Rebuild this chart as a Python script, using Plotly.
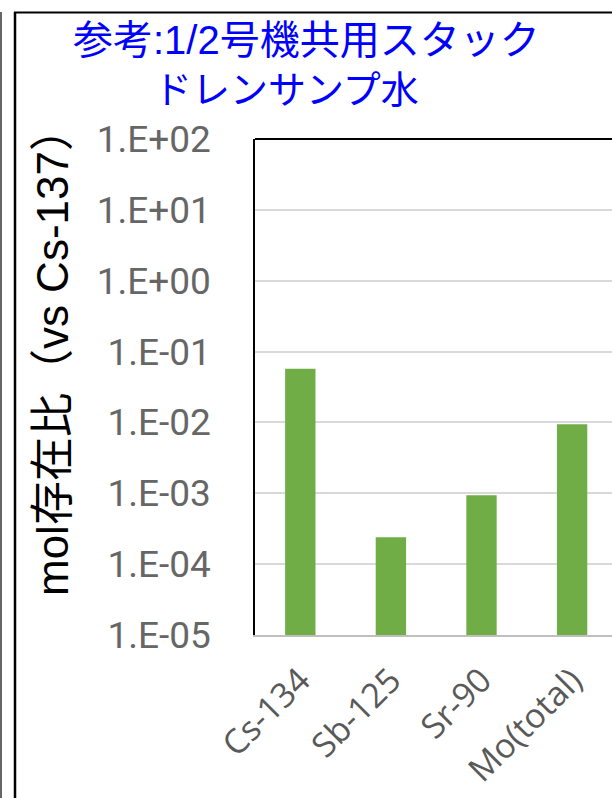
import plotly.graph_objects as go

# data (mol ratio vs Cs-137)
nuclides = ['Cs-134', 'Sb-125', 'Sr-90', 'Mo(total)']
ratio = [0.057, 2.4e-4, 9.4e-4, 9.4e-3]
tick_vals = [1e-5, 1e-4, 1e-3, 1e-2, 1e-1, 1e0, 1e1, 1e2]
tick_text = ['1.E-05', '1.E-04', '1.E-03', '1.E-02', '1.E-01', '1.E+00', '1.E+01', '1.E+02']

W, H = 612, 798
L, T, B = 255, 139, 635  # plot area in pixels


def px(x):
    return (x - L) / (W - L)


def py(y):
    return (B - y) / (B - T)


fig = go.Figure(go.Bar(x=nuclides, y=ratio, marker_color='#70AD47',
                       marker_line_width=0))

mixed = 'Liberation Sans, Noto Sans CJK JP'
fig.update_layout(
    width=W, height=H,
    margin=dict(l=L, r=0, t=T, b=H - B, pad=0),
    paper_bgcolor='white', plot_bgcolor='white',
    bargap=0.665, showlegend=False,
    annotations=[
        dict(text='参考:1/2号機共用スタック', x=px(306), y=py(40), xref='paper', yref='paper',
             xanchor='center', yanchor='middle', showarrow=False,
             font=dict(family=mixed, size=40, color='#0000FF')),
        dict(text='ドレンサンプ水', x=px(286), y=py(90), xref='paper', yref='paper',
             xanchor='center', yanchor='middle', showarrow=False,
             font=dict(family=mixed, size=38, color='#0000FF')),
        dict(text='mol存在比（vs Cs-137）', x=px(52), y=py(352), xref='paper', yref='paper',
             xanchor='center', yanchor='middle', showarrow=False, textangle=-90,
             font=dict(family=mixed, size=44, color='black')),
    ],
    shapes=[
        # plot area top border
        dict(type='line', xref='paper', yref='paper', x0=0, x1=1, y0=1, y1=1,
             line=dict(color='black', width=2)),
        # outer chart frame
        dict(type='line', xref='paper', yref='paper', x0=px(15), x1=px(15), y0=py(12), y1=py(800),
             line=dict(color='black', width=2.5)),
        dict(type='line', xref='paper', yref='paper', x0=px(14), x1=px(614), y0=py(12.5), y1=py(12.5),
             line=dict(color='black', width=2)),
        dict(type='line', xref='paper', yref='paper', x0=px(1), x1=px(1), y0=py(12), y1=py(800),
             line=dict(color='#333333', width=1.5)),
    ],
)

fig.update_xaxes(range=[-0.5, (W - L) / 90.6 - 0.5], tickangle=-45, automargin=False,
                 showline=True, linecolor='#BFBFBF', linewidth=1.5,
                 showgrid=False, ticks='', ticklabelstandoff=10,
                 tickfont=dict(family='Open Sans', size=34, color='#595959'))
fig.update_yaxes(type='log', range=[-5, 2], tickvals=tick_vals, ticktext=tick_text,
                 automargin=False,
                 showline=True, linecolor='black', linewidth=1.5,
                 showgrid=True, gridcolor='#D9D9D9', gridwidth=1.5,
                 ticks='', ticklabelstandoff=35, zeroline=False,
                 tickfont=dict(family='Roboto', size=37, color='#666666'))

fig.write_html('out.html', config={'displayModeBar': False},
               post_script="document.body.style.margin='0';")
